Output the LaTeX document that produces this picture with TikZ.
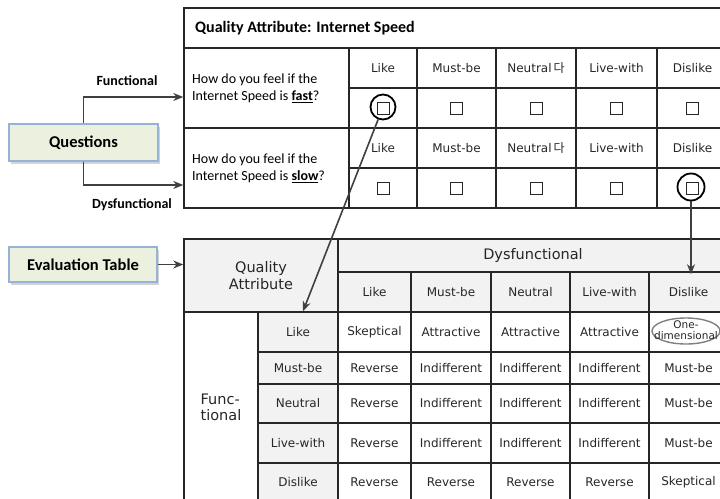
\documentclass[tikz,border=0pt]{standalone}
\usepackage{fontspec}
\setmainfont{DejaVu Sans}
\newfontfamily\calibrifont{Carlito}
\newfontfamily\krfont{Noto Sans CJK KR}
\usetikzlibrary{arrows.meta,shadows,shapes.geometric}
\definecolor{linec}{HTML}{262626}
\definecolor{hdrfill}{HTML}{F2F2F2}
\definecolor{boxfill}{HTML}{EBF1DE}
\definecolor{boxline}{HTML}{95B3D7}
\definecolor{arrowc}{HTML}{404040}
\definecolor{txt}{HTML}{262626}
\tikzset{
  cellbox/.style={draw=linec, line width=1.5pt, inner sep=0pt, align=center,
    font=\fontsize{12}{14}\selectfont, text=txt},
  hdr/.style={fill=hdrfill},
  bigtxt/.style={font=\fontsize{14.5}{17}\selectfont},
  chk/.style={draw=linec, line width=0.9pt, minimum size=12pt, inner sep=0pt},
  ring/.style={draw=black, line width=1.8pt, circle, minimum size=#1, inner sep=0pt},
  flow/.style={draw=arrowc, line width=1.6pt, -{Stealth[length=10pt,width=8pt]}},
  lbox/.style={draw=boxline, fill=boxfill, line width=1.2pt,
    font=\calibrifont\bfseries\fontsize{16.5}{18}\selectfont,
    drop shadow={shadow xshift=2pt, shadow yshift=-3pt, opacity=0.35}},
  lbl/.style={font=\calibrifont\bfseries\fontsize{14}{16}\selectfont, inner sep=0pt},
  qtext/.style={font=\calibrifont\fontsize{14}{17}\selectfont, align=left, inner sep=0pt, anchor=west},
  oval/.style={draw=gray, line width=1.4pt, ellipse, minimum width=68pt, minimum height=26pt, inner sep=0pt}
}
\newcommand\mycell[7][]{%
  \node[cellbox,#1,minimum width={(#4)-(#2)},minimum height={(#5)-(#3)}] (#6)
    at ({((#2)+(#4))/2},{((#3)+(#5))/2}) {#7};}
\begin{document}
\begin{tikzpicture}[x=1pt,y=-1pt]
\path[use as bounding box] (0,0) rectangle (720,498);
\clip (0,0) rectangle (720,498);
% ---------- top table ----------
\mycell{184}{8}{728}{48}{title}{}
\node[anchor=west, inner sep=0pt, font=\calibrifont\bfseries\fontsize{16}{18}\selectfont] (titletext) at (195,28) {Quality Attribute: Internet Speed};
\mycell{184}{48}{349}{128}{qf}{}
\mycell{184}{128}{349}{208}{qs}{}
\node[qtext] (qft) at (192,88.5) {How do you feel if the\\Internet Speed is \underline{\textbf{fast}}?};
\node[qtext] (qst) at (192,168.5) {How do you feel if the\\Internet Speed is \underline{\textbf{slow}}?};
\foreach \i/\a/\b/\t in {1/349/417/Like, 2/417/496/Must-be, 3/496/576/{Neutral\,{\krfont 다}}, 4/576/657/Live-with, 5/657/728/Dislike}{
  \mycell{\a}{48}{\b}{88}{fh\i}{\t}
  \mycell{\a}{88}{\b}{128}{fc\i}{}
  \mycell{\a}{128}{\b}{168}{sh\i}{\t}
  \mycell{\a}{168}{\b}{208}{sc\i}{}
}
\foreach \i/\x in {1/383, 2/456.5, 3/536, 4/616.5, 5/692}{
  \node[chk] (fb\i) at (\x,108) {};
  \node[chk] (sb\i) at (\x,188) {};
}
\node[ring=25pt] (c1) at (383,107) {};
\node[ring=27pt] (c2) at (691,187) {};
% ---------- side boxes ----------
\node[lbox, minimum width=149pt, minimum height=37pt] (q) at (83.5,142.5) {Questions};
\node[lbox, minimum width=148pt, minimum height=35pt] (ev) at (83,264.5) {Evaluation Table};
\node[lbl] (lf) at (127,81) {Functional};
\node[lbl] (ld) at (132,205) {Dysfunctional};
% ---------- bottom table ----------
\mycell[hdr,bigtxt]{184}{239}{338}{312}{qa}{Quality\\Attribute}
\mycell[hdr,bigtxt]{338}{239}{728}{272}{dys}{Dysfunctional}
\foreach \i/\a/\b/\t in {1/338/411/Like, 2/411/491/Must-be, 3/491/570/Neutral, 4/570/649/Live-with, 5/649/728/Dislike}{
  \mycell[hdr]{\a}{272}{\b}{312}{h\i}{\t}
}
\mycell[bigtxt]{184}{312}{258}{502}{func}{}
\node[align=left, inner sep=0pt, font=\fontsize{14.5}{16}\selectfont, text=txt] (functxt) at (221,407) {Func-\\tional};
\foreach \r/\a/\b/\t in {1/312/352/Like, 2/352/384/Must-be, 3/384/423/Neutral, 4/423/463/Live-with, 5/463/502/Dislike}{
  \mycell[hdr]{258}{\a}{338}{\b}{r\r}{\t}
}
\foreach \r/\a/\b/\ta/\tb/\tc/\td/\te in {
  1/312/352/Skeptical/Attractive/Attractive/Attractive/{},
  2/352/384/Reverse/Indifferent/Indifferent/Indifferent/Must-be,
  3/384/423/Reverse/Indifferent/Indifferent/Indifferent/Must-be,
  4/423/463/Reverse/Indifferent/Indifferent/Indifferent/Must-be,
  5/463/502/Reverse/Reverse/Reverse/Reverse/Skeptical}{
  \mycell{338}{\a}{411}{\b}{d\r1}{\ta}
  \mycell{411}{\a}{491}{\b}{d\r2}{\tb}
  \mycell{491}{\a}{570}{\b}{d\r3}{\tc}
  \mycell{570}{\a}{649}{\b}{d\r4}{\td}
  \mycell{649}{\a}{728}{\b}{d\r5}{\te}
}
\node[oval] (ov) at (686,331) {};
\node[align=center, inner sep=0pt, font=\fontsize{10.5}{11.5}\selectfont, text=txt] (onedim) at (686,330) {One-\\dimensional};
% ---------- connectors ----------
\draw[flow] (q.north) |- ([yshift=-9pt]qf.west);
\draw[flow] (q.south) |- ([yshift=-17pt]qs.west);
\draw[flow] (ev.east) -- (ev.east -| qa.west);
\draw[flow] (c1) -- ([xshift=5pt]r1.north);
\draw[flow] (c2) -- ([yshift=-3pt]c2 |- h5.north);
\end{tikzpicture}
\end{document}
